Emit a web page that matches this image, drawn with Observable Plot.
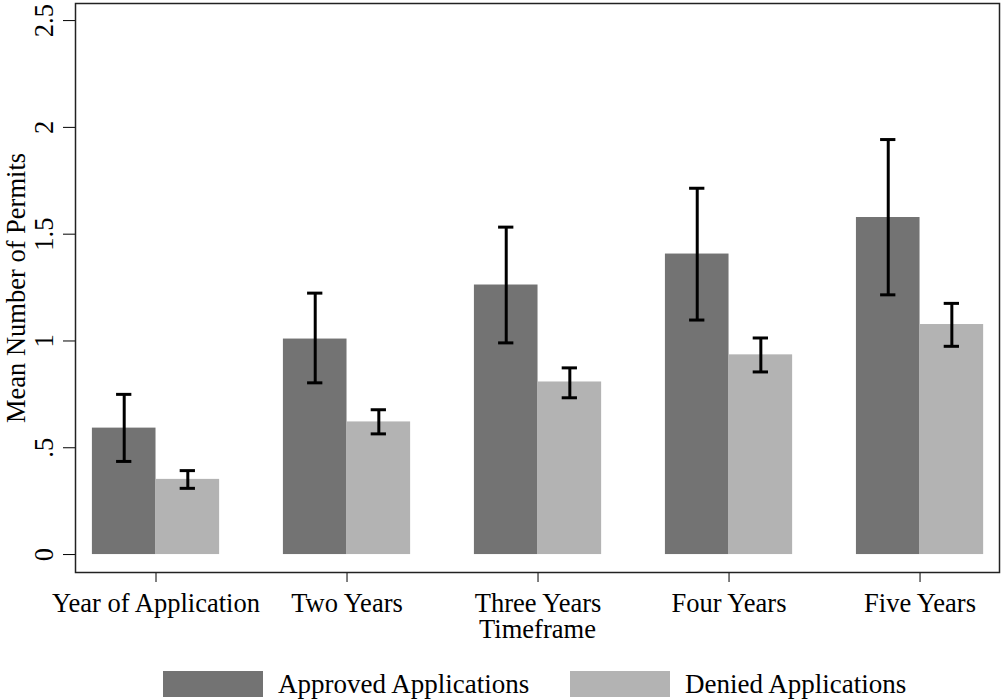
<!DOCTYPE html>
<html>
<head>
<meta charset="utf-8">
<script src="https://cdn.jsdelivr.net/npm/d3@7"></script>
<script src="https://cdn.jsdelivr.net/npm/@observablehq/plot@0.6"></script>
<style>
  html, body { margin: 0; padding: 0; background: white; }
  #wrap { position: relative; width: 1002px; height: 700px; font-family: "Liberation Serif", "Times New Roman", serif; }
  .leg { position: absolute; top: 670px; display: flex; align-items: center; font-size: 27px; line-height: 28px; color: black; }
  .sw { width: 100px; height: 26px; margin-right: 15px; }
</style>
</head>
<body>
<div id="wrap"></div>
<script>
const categories = ["Year of Application", "Two Years", "Three Years", "Four Years", "Five Years"];
const approvedMean = [0.592, 1.009, 1.262, 1.407, 1.578];
const approvedLow  = [0.436, 0.804, 0.991, 1.098, 1.216];
const approvedHigh = [0.750, 1.224, 1.533, 1.715, 1.943];
const deniedMean   = [0.352, 0.621, 0.808, 0.935, 1.077];
const deniedLow    = [0.310, 0.565, 0.734, 0.855, 0.975];
const deniedHigh   = [0.393, 0.678, 0.874, 1.014, 1.176];
const yTicks = [0, 0.5, 1, 1.5, 2, 2.5];
const yTickLabels = ["0", ".5", "1", "1.5", "2", "2.5"];
const seriesNames = ["Approved Applications", "Denied Applications"];
const seriesColors = ["#737373", "#b3b3b3"];

const bw = 0.333;   // bar width in group units
const cap = 0.04;   // half cap width

const rows = categories.map((c, i) => ({
  i, c,
  am: approvedMean[i], al: approvedLow[i], ah: approvedHigh[i],
  dm: deniedMean[i], dl: deniedLow[i], dh: deniedHigh[i]
}));

const chart = Plot.plot({
  width: 1002,
  height: 645,
  marginLeft: 75,
  marginRight: 3,
  marginTop: 3,
  marginBottom: 73,
  style: {fontFamily: "'Liberation Serif', 'Times New Roman', serif", fontSize: "26.5px", background: "white", color: "black"},
  x: {
    domain: [-0.4215, 4.416],
    ticks: d3.range(categories.length),
    tickFormat: i => categories[i],
    tickSize: 10,
    tickPadding: 11,
    label: "Timeframe",
    labelAnchor: "center",
    labelOffset: 65,
    labelArrow: "none"
  },
  y: {
    domain: [-0.084, 2.58],
    ticks: yTicks,
    tickFormat: v => yTickLabels[yTicks.indexOf(v)],
    tickSize: 12,
    tickRotate: -90,
    tickPadding: 11,
    label: "Mean Number of Permits",
    labelAnchor: "center",
    labelOffset: 69,
    labelArrow: "none"
  },
  marks: [
    Plot.rect(rows, {x1: d => d.i - bw, x2: d => d.i, y1: d => 0, y2: "am", fill: seriesColors[0]}),
    Plot.rect(rows, {x1: d => d.i, x2: d => d.i + bw, y1: d => 0, y2: "dm", fill: seriesColors[1]}),
    Plot.ruleX(rows, {x: d => d.i - bw / 2, y1: "al", y2: "ah", stroke: "black", strokeWidth: 3}),
    Plot.ruleY(rows, {y: "ah", x1: d => d.i - bw / 2 - cap, x2: d => d.i - bw / 2 + cap, stroke: "black", strokeWidth: 3}),
    Plot.ruleY(rows, {y: "al", x1: d => d.i - bw / 2 - cap, x2: d => d.i - bw / 2 + cap, stroke: "black", strokeWidth: 3}),
    Plot.ruleX(rows, {x: d => d.i + bw / 2, y1: "dl", y2: "dh", stroke: "black", strokeWidth: 3}),
    Plot.ruleY(rows, {y: "dh", x1: d => d.i + bw / 2 - cap, x2: d => d.i + bw / 2 + cap, stroke: "black", strokeWidth: 3}),
    Plot.ruleY(rows, {y: "dl", x1: d => d.i + bw / 2 - cap, x2: d => d.i + bw / 2 + cap, stroke: "black", strokeWidth: 3}),
    Plot.frame({stroke: "#222", strokeWidth: 1.5})
  ]
});

const wrap = document.getElementById("wrap");
wrap.appendChild(chart);

const legLeft = [163, 570];
seriesNames.forEach((name, k) => {
  const item = document.createElement("div");
  item.className = "leg";
  item.style.left = legLeft[k] + "px";
  const sw = document.createElement("div");
  sw.className = "sw";
  sw.style.background = seriesColors[k];
  const label = document.createElement("span");
  label.textContent = name;
  item.appendChild(sw);
  item.appendChild(label);
  wrap.appendChild(item);
});
</script>
</body>
</html>
